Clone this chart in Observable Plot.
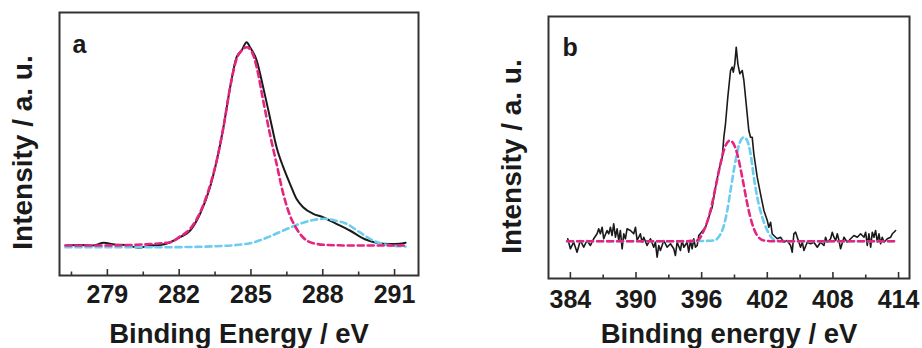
<!DOCTYPE html>
<html>
<head>
<meta charset="utf-8">
<script src="https://cdn.jsdelivr.net/npm/d3@7"></script>
<script src="https://cdn.jsdelivr.net/npm/@observablehq/plot@0.6"></script>
<style>
  html, body { margin: 0; padding: 0; background: #fff; }
  #wrap { position: relative; width: 922px; height: 348px; overflow: hidden; }
  #wrap svg { position: absolute; top: 0; font-family: "Liberation Sans", Arial, sans-serif; }
  #wrap svg text { font-weight: bold; fill: #1a1a1a; }
</style>
</head>
<body>
<div id="wrap"></div>
<script>
// ---------- Panel a : C 1s ----------
const aTicks = [279, 282, 285, 288, 291];
const aMinor = [277.5, 280.5, 283.5, 286.5, 289.5];
const aTotalX = [277.25, 277.8, 278.4, 278.85, 279.3, 279.75, 280.3, 280.8, 281.2, 281.63, 282.04, 282.46, 282.88, 283.29, 283.57, 283.85, 284.13, 284.4, 284.61, 284.82, 284.96, 285.24, 285.51, 285.79, 286.07, 286.35, 286.63, 286.9, 287.18, 287.6, 288.01, 288.57, 289.13, 289.82, 290.24, 290.79, 291.21, 291.46];
const aTotalY = [30, 30.5, 30, 32.7, 31, 30.5, 27.7, 30, 30.5, 33.3, 38.3, 45, 62, 88.3, 115, 148.3, 188.3, 218.3, 225, 233.3, 228.3, 215, 188.3, 158.3, 128.3, 108.3, 91.7, 76.7, 68.3, 61.7, 58.3, 51.7, 45, 35.7, 32.7, 31.5, 31.7, 32.7];
const aPinkX = [277.25, 278.5, 280.0, 280.8, 281.63, 282.04, 282.46, 282.88, 283.29, 283.57, 283.85, 284.13, 284.4, 284.61, 284.82, 285.03, 285.24, 285.51, 285.79, 286.07, 286.35, 286.63, 286.9, 287.18, 287.6, 288.2, 289.3, 290.5, 291.46];
const aPinkY = [30, 30, 30.5, 31.5, 33.3, 39, 46.7, 63.3, 90, 115, 148.3, 188.3, 216.7, 225, 228.3, 224, 208.3, 175, 141.7, 111.7, 81.7, 60, 47, 38, 32.3, 30.5, 30, 30, 30];
const aBlueX = [277.25, 279, 281.5, 283.57, 284.96, 285.65, 286.35, 287.04, 287.6, 288.08, 288.5, 288.99, 289.54, 290.1, 290.65, 291.46];
const aBlueY = [28.3, 28.3, 28.3, 29.3, 32.3, 37.7, 45, 51.7, 55.5, 56.7, 55, 51.7, 43.3, 35, 30.7, 29];

// ---------- Panel b : N 1s ----------
const bTicks = [384, 390, 396, 402, 408, 414];
const bMinor = [387, 393, 399, 405, 411];
const bTotalX = [383.76, 384.0, 384.3, 384.61, 384.91, 385.22, 385.52, 385.83, 386.13, 386.44, 386.59, 386.74, 386.9, 387.05, 387.35, 387.51, 387.66, 387.81, 387.96, 388.12, 388.27, 388.42, 388.57, 388.73, 388.88, 389.03, 389.18, 389.49, 389.79, 389.95, 390.1, 390.4, 390.55, 390.71, 391.01, 391.32, 391.62, 391.77, 391.93, 392.08, 392.23, 392.54, 392.84, 393.15, 393.45, 393.6, 393.76, 394.06, 394.21, 394.37, 394.67, 394.82, 394.98, 395.13, 395.28, 395.43, 395.59, 395.74,
  395.89, 396.35, 396.65, 396.96, 397.27, 397.57, 397.88, 398.03, 398.18, 398.39, 398.64, 398.79, 398.89, 399.03, 399.16, 399.31, 399.49, 399.71, 399.86, 400.1, 400.31, 400.47, 400.62, 400.77, 401.08, 401.38, 401.69, 402.0, 402.14, 402.3,
  402.45, 402.6, 402.91, 403.21, 403.52, 403.82, 404.13, 404.28, 404.43, 404.59, 404.74, 405.04, 405.2, 405.35, 405.65, 405.96, 406.26, 406.57, 406.87, 407.18, 407.33, 407.48, 407.79, 407.94, 408.09, 408.25, 408.4, 408.55, 408.7, 409.01, 409.31, 409.62, 409.92, 410.23, 410.53, 410.84, 410.99, 411.14, 411.29, 411.45, 411.6, 411.75, 411.9, 412.06, 412.21, 412.36, 412.51, 412.67, 412.97, 413.28, 413.43, 413.58, 413.73];
const bTotalY = [39.7, 29.7, 36.3, 26.3, 38, 31.3, 38, 33, 39.7, 44.7, 49.7, 44.7, 51.3, 39.7, 48, 44.7, 51.3, 43, 54.7, 41.3, 49.7, 38, 48, 29.7, 44.7, 39.7, 49.7, 48, 44.7, 51.3, 38, 44.7, 36.3, 41.3, 33, 39.7, 31.3, 36.3, 21.3, 33, 28, 38, 31.3, 34.7, 29.7, 23, 36.3, 28, 38, 31.3, 36.3, 26.3, 38, 29.7, 39.7, 31.3, 33, 43,
  45, 51.3, 61.3, 71.3, 91.3, 108, 121.3, 141.3, 154.7, 181.3, 208, 211.3, 206.3, 214.7, 231.3, 214.7, 204.7, 208, 198, 171.3, 148, 141.3, 141.3, 124.7, 101.3, 84.7, 68, 58, 51.3, 56.3,
  44.7, 43, 39.7, 41.3, 36.3, 38, 33, 26.3, 44.7, 46.3, 41.3, 31.3, 36.3, 28, 36.3, 34.7, 36.3, 31.3, 36.3, 33, 41.3, 36.3, 39.7, 46.3, 41.3, 38, 44.7, 38, 29.7, 41.3, 36.3, 39.7, 43, 41.3, 44.7, 41.3, 46.3, 33, 44.7, 31.3, 46.3, 41.3, 48, 36.3, 44.7, 34.7, 41.3, 36.3, 39.7, 41.3, 44.7, 46.3, 48];
const bPinkX = [383.7, 390, 394.5, 395.59, 396.2, 396.81, 397.27, 397.72, 398.15, 398.58, 398.95, 399.25, 399.71, 400.17, 400.62, 401.08, 401.69, 402.5, 408, 413.8];
const bPinkY = [37.3, 37.3, 37.3, 38, 48, 68, 91.3, 114.7, 132, 138, 134, 124.7, 101.3, 74.7, 54.7, 43, 38, 37.3, 37.3, 37.3];
const bBlueX = [383.7, 394, 396.0, 397.11, 397.88, 398.34, 398.64, 398.94, 399.4, 399.86, 400.2, 400.47, 400.77, 401.08, 401.54, 402.0, 402.76, 404, 413.8];
const bBlueY = [37.3, 37.3, 37.5, 38, 48, 68, 88, 108, 133, 141.3, 137, 124.7, 101.3, 81.3, 61.3, 48, 38, 37.3, 37.3];

const PINK = "#e5247f";
const BLUE = "#6ccdee";
const INK = "#1a1a1a";
const FONT = "'Liberation Sans', Arial, sans-serif";

const rows = (xs, ys) => xs.map((x, i) => ({x, y: ys[i]}));

function panel({width, ml, mr, mt, mb, xDomain, yDomain, ticks, minor, total, pink, blue, totalCurve, totalWidth, xLabel, letter, letterDx, letterDy, padding, titleDy, yLabelDy}) {
  const plotH = 348 - mt - mb;
  return Plot.plot({
    width, height: 348,
    marginLeft: ml, marginRight: mr, marginTop: mt, marginBottom: mb,
    x: {domain: xDomain, axis: null},
    y: {domain: yDomain, axis: null},
    style: {fontFamily: FONT, background: "transparent", overflow: "visible"},
    marks: [
      Plot.line(total, {x: "x", y: "y", stroke: INK, strokeWidth: totalWidth, curve: totalCurve}),
      Plot.line(blue, {x: "x", y: "y", stroke: BLUE, strokeWidth: 2.6, strokeDasharray: "6,4", curve: "monotone-x"}),
      Plot.line(pink, {x: "x", y: "y", stroke: PINK, strokeWidth: 2.6, strokeDasharray: "6,4", curve: "monotone-x"}),
      Plot.ruleX(ticks, {x: d => d, stroke: "#333", strokeWidth: 1.6, insetTop: plotH - 6}),
      Plot.ruleX(minor, {x: d => d, stroke: "#333", strokeWidth: 1.6, insetTop: plotH - 3.5}),
      Plot.frame({stroke: "#333", strokeWidth: 2}),
      Plot.text(ticks, {x: d => d, text: d => String(d), frameAnchor: "bottom", lineAnchor: "top", textAnchor: "middle", dy: padding, fontSize: 25, fontWeight: "bold", fill: INK}),
      Plot.text([xLabel], {frameAnchor: "bottom", lineAnchor: "middle", textAnchor: "middle", dy: titleDy, fontSize: 27.5, fontWeight: "bold", fill: INK}),
      Plot.text(["Intensity / a. u."], {frameAnchor: "left", rotate: -90, lineAnchor: "middle", textAnchor: "middle", dx: -36, dy: yLabelDy, fontSize: 28, fontWeight: "bold", fill: INK}),
      Plot.text([letter], {frameAnchor: "top-left", lineAnchor: "middle", textAnchor: "start", dx: letterDx, dy: letterDy, fontSize: 25, fontWeight: "bold", fill: INK})
    ]
  });
}

const wrap = document.getElementById("wrap");

const svgA = panel({
  width: 460, ml: 59, mr: 42, mt: 12, mb: 73,
  xDomain: [277, 292], yDomain: [0, 263],
  ticks: aTicks, minor: aMinor,
  total: rows(aTotalX, aTotalY), pink: rows(aPinkX, aPinkY), blue: rows(aBlueX, aBlueY),
  totalCurve: "monotone-x", totalWidth: 2,
  xLabel: "Binding Energy / eV", letter: "a", letterDx: 13, letterDy: 32,
  padding: 10, titleDy: 59, yLabelDy: 8.5
});
svgA.style.left = "0px";
wrap.appendChild(svgA);

const svgB = panel({
  width: 462, ml: 88, mr: 13, mt: 16, mb: 70,
  xDomain: [382, 415], yDomain: [0, 262],
  ticks: bTicks, minor: bMinor,
  total: rows(bTotalX, bTotalY), pink: rows(bPinkX, bPinkY), blue: rows(bBlueX, bBlueY),
  totalCurve: "linear", totalWidth: 1.6,
  xLabel: "Binding energy / eV", letter: "b", letterDx: 14, letterDy: 31,
  padding: 12, titleDy: 56, yLabelDy: 9
});
svgB.style.left = "460px";
wrap.appendChild(svgB);
</script>
</body>
</html>
